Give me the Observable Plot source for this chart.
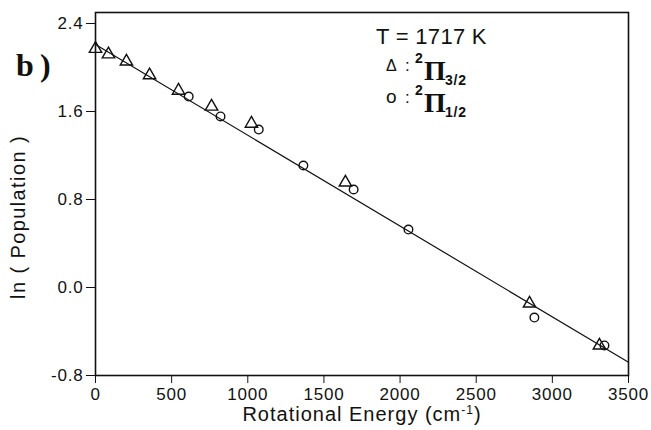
<!DOCTYPE html>
<html>
<head>
<meta charset="utf-8">
<script src="https://cdn.jsdelivr.net/npm/d3@7"></script>
<script src="https://cdn.jsdelivr.net/npm/@observablehq/plot@0.6"></script>
<style>
  body { margin: 0; background: #fff; }
  #chart svg text { letter-spacing: 0.8px; }
</style>
</head>
<body>
<div id="chart"></div>
<script>
// Data (Rotational energy cm^-1, ln population)
const pi32Energy = [0, 85, 203, 355, 545, 762, 1024, 1641, 2850, 3309];
const pi32LnPop  = [2.17, 2.12, 2.055, 1.93, 1.79, 1.645, 1.49, 0.955, -0.145, -0.527];
const pi12Energy = [612, 821, 1072, 1365, 1695, 2055, 2882, 3342];
const pi12LnPop  = [1.736, 1.555, 1.436, 1.109, 0.891, 0.527, -0.273, -0.527];
const fitEnergy = [0, 3500];
const fitLnPop  = [2.21, -0.68];
const xTicks = [0, 500, 1000, 1500, 2000, 2500, 3000, 3500];
const yTicks = [-0.8, 0.0, 0.8, 1.6, 2.4];

const tri = pi32Energy.map((e, i) => ({e, v: pi32LnPop[i]}));
const circ = pi12Energy.map((e, i) => ({e, v: pi12LnPop[i]}));
const fit = fitEnergy.map((e, i) => ({e, v: fitLnPop[i]}));

const plot = Plot.plot({
  width: 651,
  height: 430,
  marginLeft: 95,
  marginRight: 23,
  marginTop: 12,
  marginBottom: 55,
  style: {fontFamily: "'Liberation Sans', Arial, sans-serif", fontSize: "17px", color: "#111", background: "#fff"},
  x: {domain: [0, 3500]},
  y: {domain: [-0.8, 2.5]},
  marks: [
    Plot.line(fit, {x: "e", y: "v", stroke: "#111", strokeWidth: 1.2}),
    Plot.dot(tri, {x: "e", y: "v", symbol: "triangle", r: 4.6, stroke: "#111", strokeWidth: 1.4, fill: "none"}),
    Plot.dot(circ, {x: "e", y: "v", symbol: "circle", r: 4.3, stroke: "#111", strokeWidth: 1.4, fill: "none"}),
    Plot.frame({stroke: "#111", strokeWidth: 1.6}),
    Plot.axisX({ticks: xTicks, tickSize: 8, tickPadding: 4, label: null, fontSize: 17, stroke: "#111", tickFormat: d => String(d)}),
    Plot.axisY({ticks: yTicks, tickSize: 9, tickPadding: 3, label: null, fontSize: 17, stroke: "#111", tickFormat: d => d.toFixed(1)})
  ]
});
document.getElementById("chart").appendChild(plot);

// Annotations (text) added to the SVG
const svg = d3.select(plot);
const sans = "'Liberation Sans', Arial, sans-serif";
const serif = "'Liberation Serif', 'Times New Roman', serif";

// y-axis title
svg.append("text")
  .attr("transform", "translate(25,217) rotate(-90)")
  .attr("text-anchor", "middle")
  .attr("font-family", sans).attr("font-size", 20).attr("fill", "#111")
  .style("letter-spacing", "1.4px")
  .text("ln ( Population )");

// x-axis title
const xl = svg.append("text")
  .attr("x", 362).attr("y", 421)
  .attr("text-anchor", "middle")
  .attr("font-family", sans).attr("font-size", 20).attr("fill", "#111")
  .style("letter-spacing", "1px");
xl.append("tspan").text("Rotational Energy (cm");
xl.append("tspan").attr("dy", -7).attr("font-size", 12).text("-1");
xl.append("tspan").attr("dy", 7).text(")");

// panel label
const bl = (x, s) => svg.append("text")
  .attr("x", x).attr("y", 76)
  .attr("text-anchor", "start")
  .attr("font-family", serif).attr("font-weight", "bold").attr("font-size", 32).attr("fill", "#111")
  .text(s);
bl(16, "b");
bl(40, ")");

// legend
svg.append("text")
  .attr("x", 376).attr("y", 44)
  .attr("text-anchor", "start")
  .attr("font-family", sans).attr("font-size", 22).attr("fill", "#111")
  .style("letter-spacing", "0.3px")
  .text("T = 1717 K");

function legendRow(symbol, symSize, baseline, sub) {
  const t = (x, y) => svg.append("text").attr("x", x).attr("y", y).attr("text-anchor", "start").attr("fill", "#111");
  t(386, baseline - 9).attr("font-family", sans).attr("font-size", symSize).text(symbol);
  t(405, baseline - 9).attr("font-family", sans).attr("font-size", 17).text(":");
  t(415, baseline - 17).attr("font-family", sans).attr("font-size", 14).attr("font-weight", "bold").text("2");
  t(424, baseline).attr("font-family", serif).attr("font-weight", "bold").attr("font-size", 28).text("Π");
  t(445, baseline + 5).attr("font-family", sans).attr("font-size", 14).attr("font-weight", "bold").text(sub);
}
legendRow("Δ", 16, 80, "3/2");
legendRow("o", 19, 112, "1/2");
</script>
</body>
</html>
